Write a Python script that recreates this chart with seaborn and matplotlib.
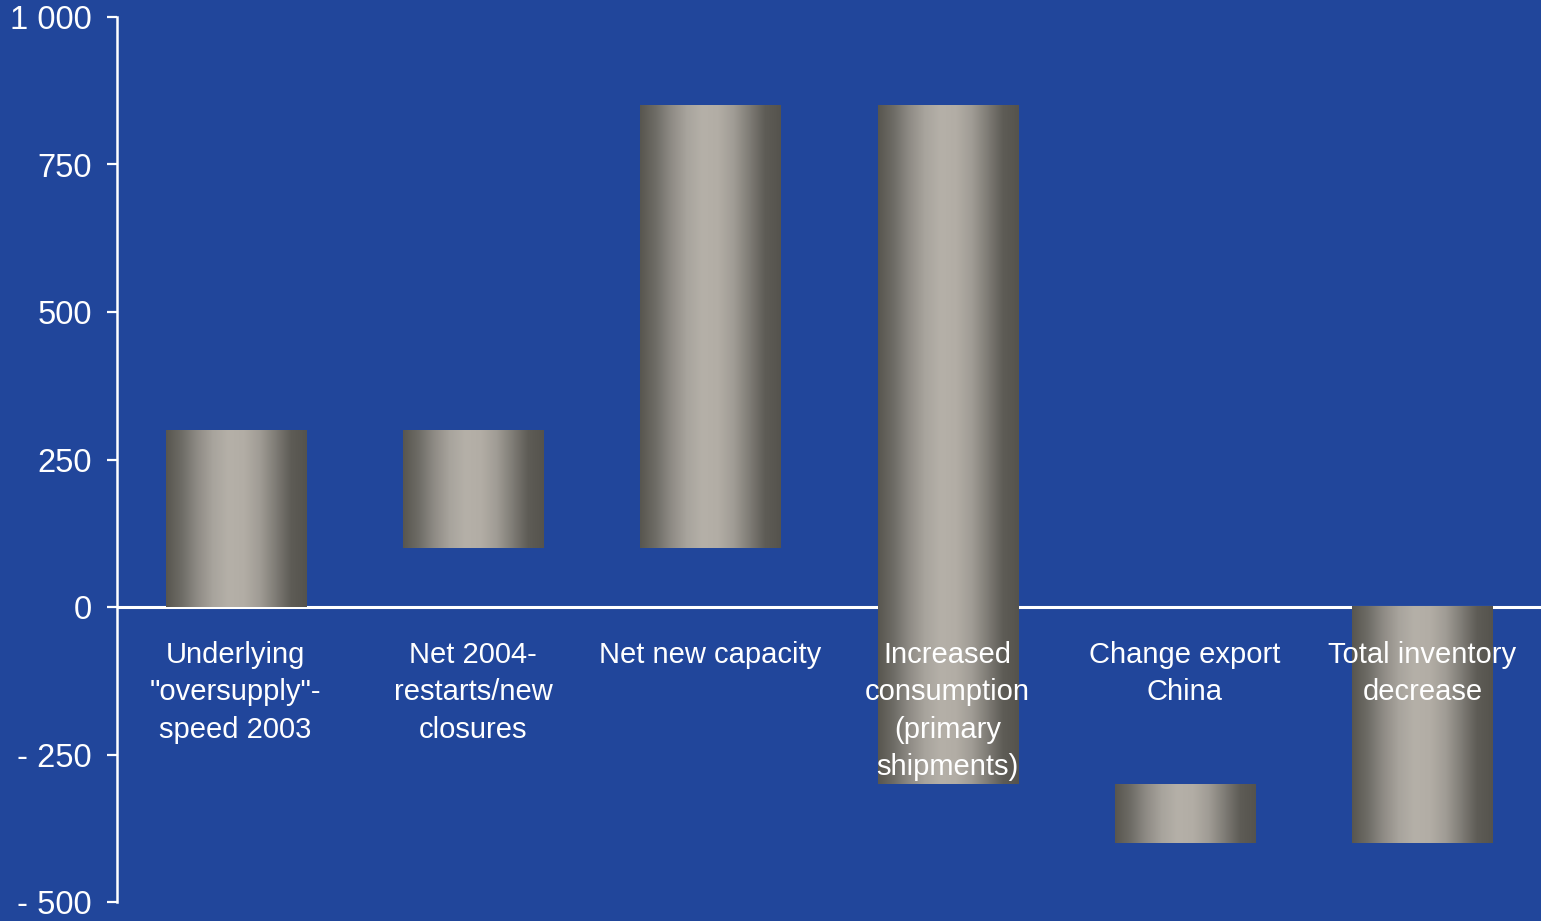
import numpy as np
import pandas as pd
import matplotlib
matplotlib.use("Agg")
import matplotlib.pyplot as plt
import seaborn as sns
from matplotlib.colors import LinearSegmentedColormap

# Waterfall components (thousand tonnes): each bar floats from start to end
categories = [
    'Underlying\n"oversupply"-\nspeed 2003',
    'Net 2004-\nrestarts/new\nclosures',
    'Net new capacity',
    'Increased\nconsumption\n(primary\nshipments)',
    'Change export\nChina',
    'Total inventory\ndecrease',
]
bar_start = [0, 100, 100, -300, -400, -400]
bar_end = [300, 300, 850, 850, -300, 0]

y_ticks = [-500, -250, 0, 250, 500, 750, 1000]
y_tick_labels = ["- 500", "- 250", "0", "250", "500", "750", "1 000"]

BG = "#21469b"

sns.set_theme(style="white")
plt.rcParams["font.family"] = ["Liberation Sans", "DejaVu Sans"]

df = pd.DataFrame({
    "category": categories,
    "span": np.array(bar_end) - np.array(bar_start),
    "start": bar_start,
})

fig = plt.figure(figsize=(15.41, 9.21), dpi=100, facecolor=BG)
ax = fig.add_axes([117 / 1541, 1 - 902 / 921, 1 - 117 / 1541, (902 - 17) / 921])
ax.set_facecolor(BG)

sns.barplot(data=df, x="category", y="span", width=0.59, color="#aaa59e",
            linewidth=0, saturation=1, ax=ax, zorder=3)

# Shift each bar to float at its starting value
for patch, start in zip(ax.patches, df["start"]):
    patch.set_y(start)

# Cylinder shading: dark edges, light centre
cyl = LinearSegmentedColormap.from_list(
    "cyl", ["#58564f", "#6e6c66", "#8f8b85", "#a8a49d", "#b5b0a8",
            "#b2ada5", "#a09c95", "#7f7c76", "#5e5c56", "#55534d"])
grad = np.linspace(0, 1, 256).reshape(1, -1)
for patch in ax.patches:
    x0, y0 = patch.get_x(), patch.get_y()
    w, h = patch.get_width(), patch.get_height()
    ax.imshow(grad, cmap=cyl, aspect="auto", interpolation="bilinear",
              extent=(x0, x0 + w, y0, y0 + h), zorder=4)

ax.set_xlim(-0.5, len(categories) - 0.5)
ax.set_ylim(-500, 1000)

ax.axhline(0, color="white", lw=2.2, zorder=2)

# Category labels just below the zero line
for patch, label in zip(ax.patches, categories):
    cx = patch.get_x() + patch.get_width() / 2
    ax.text(cx, -57, label, ha="center", va="top", color="white",
            fontsize=21, linespacing=1.43, zorder=6)

ax.set_xticks([])
ax.set_xlabel("")
ax.set_ylabel("")
ax.set_yticks(y_ticks)
ax.set_yticklabels(y_tick_labels)
ax.tick_params(axis="y", colors="white", labelsize=23.5, length=7,
               width=1.6, pad=11, left=True, direction="out")

for side in ["top", "right", "bottom"]:
    ax.spines[side].set_visible(False)
ax.spines["left"].set_color("white")
ax.spines["left"].set_linewidth(1.8)

fig.savefig("out.png", dpi=100, facecolor=BG)
